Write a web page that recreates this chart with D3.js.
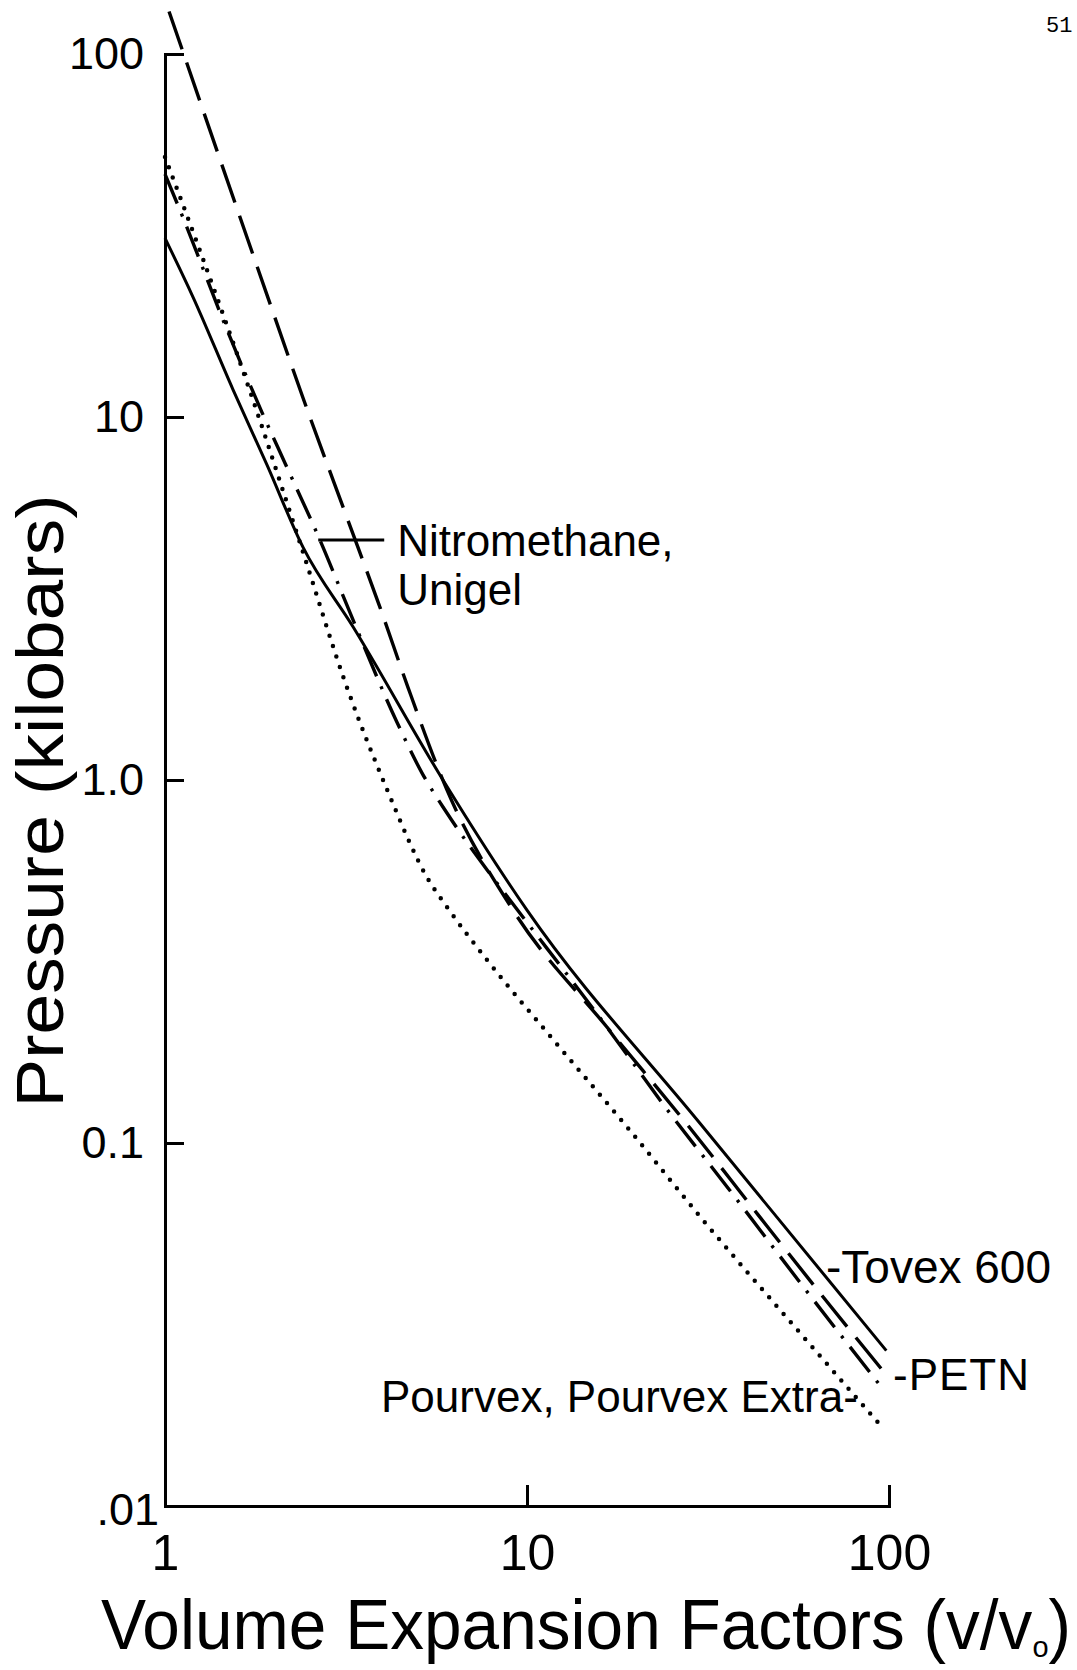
<!DOCTYPE html>
<html>
<head>
<meta charset="utf-8">
<script src="https://cdn.jsdelivr.net/npm/d3@7"></script>
<style>
  html, body { margin: 0; padding: 0; background: #fff; }
  svg { display: block; background: #fff; }
</style>
</head>
<body>
<svg id="chart" width="1077" height="1670"></svg>
<script>
// Axis ticks and their printed labels
const xTicks = [1, 10, 100];
const xTickLabels = ["1", "10", "100"];
const yTicks = [0.01, 0.1, 1, 10, 100];
const yTickLabels = [".01", "0.1", "1.0", "10", "100"];

// Pressure (kilobars) against volume expansion factor v/v0
const tovexV = [1.0, 1.195, 1.541, 1.913, 2.405, 3.31, 5.86, 10.0, 30.0, 98.3];
const tovexP = [31.1, 21.4, 11.9, 7.38, 4.38, 2.64, 1.00, 0.438, 0.1135, 0.0268];

const petnV = [1.026, 1.913, 2.405, 3.20, 3.93, 4.69, 6.01, 9.15, 16.6, 28.2, 43.5, 69.6, 97.5];
const petnP = [131, 21.7, 11.3, 5.20, 2.98, 1.80, 0.939, 0.438, 0.209, 0.110, 0.0634, 0.0351, 0.0232];

const nitroV = [1.0, 1.128, 1.483, 1.853, 2.146, 2.68, 3.24, 4.37, 5.13, 6.01, 7.76, 8.97, 16.6, 24.1, 35.9, 57.5, 96.2];
const nitroP = [46.7, 34.9, 17.4, 10.3, 7.46, 4.58, 2.90, 1.445, 1.045, 0.811, 0.565, 0.467, 0.209, 0.1256, 0.0752, 0.0406, 0.0210];

const pourvexV = [1.0, 1.210, 1.750, 2.36, 3.20, 4.11, 5.29, 6.01, 7.76, 11.95, 18.9, 30.6, 55.0, 95.6];
const pourvexP = [52.0, 31.3, 11.14, 4.50, 1.77, 0.939, 0.540, 0.447, 0.319, 0.190, 0.1107, 0.0614, 0.0311, 0.0165];

const seriesNames = ["Tovex 600", "PETN", "Nitromethane, Unigel", "Pourvex, Pourvex Extra"];

const FONT = "'Liberation Sans', Arial, sans-serif";
const svg = d3.select("#chart");

const x = d3.scaleLog().domain([1, 100]).range([165, 889]);
const y = d3.scaleLog().domain([0.01, 100]).range([1506, 54]);

// y axis: ticks point into the plot, labels to the left
const yAxis = svg.append("g")
  .attr("transform", `translate(${x(1)},0)`)
  .call(d3.axisLeft(y)
    .tickValues(yTicks)
    .tickFormat((d, i) => yTickLabels[i])
    .tickSizeInner(-19)
    .tickSizeOuter(0)
    .tickPadding(21));

// x axis: ticks point up, labels below
const xAxis = svg.append("g")
  .attr("transform", `translate(0,${y(0.01)})`)
  .call(d3.axisBottom(x)
    .tickValues(xTicks)
    .tickFormat((d, i) => xTickLabels[i])
    .tickSizeInner(-21)
    .tickSizeOuter(0)
    .tickPadding(28));

[yAxis, xAxis].forEach(g => {
  g.attr("font-family", FONT);
  g.select(".domain").attr("stroke", "#000").attr("stroke-width", 3).attr("stroke-linecap", "square");
  g.selectAll(".tick line").attr("stroke", "#000").attr("stroke-width", 3);
  g.selectAll(".tick text").attr("fill", "#000");
});
yAxis.attr("font-size", 45);
xAxis.attr("font-size", 50);
// ".01" sits right against the corner of the frame
yAxis.selectAll(".tick text").filter(d => d === 0.01).attr("x", -6).attr("dy", "0.4em");
// the "1" on the x axis is not drawn on top of the y tick
xAxis.selectAll(".tick line").filter(d => d === 1).remove();

// curves
const line = d3.line()
  .x(d => x(d[0]))
  .y(d => y(d[1]))
  .curve(d3.curveMonotoneX);

const series = [
  { name: seriesNames[0], v: tovexV, p: tovexP, dash: null, width: 3, cap: "butt" },
  { name: seriesNames[1], v: petnV, p: petnP, dash: "40,14", width: 3.4, cap: "butt" },
  { name: seriesNames[2], v: nitroV, p: nitroP, dash: "32,11,3,11", width: 3.4, cap: "butt" },
  { name: seriesNames[3], v: pourvexV, p: pourvexP, dash: "0,11", width: 4.5, cap: "round" }
];

svg.append("g").selectAll("path")
  .data(series)
  .join("path")
  .attr("d", s => line(s.v.map((v, i) => [v, s.p[i]])))
  .attr("fill", "none")
  .attr("stroke", "#000")
  .attr("stroke-width", s => s.width)
  .attr("stroke-linecap", s => s.cap)
  .attr("stroke-dasharray", s => s.dash);

// leader for the nitromethane / unigel curve
const leadX = x(2.65), leadY = y(4.58);
svg.append("line")
  .attr("x1", leadX).attr("y1", leadY)
  .attr("x2", leadX + 66).attr("y2", leadY)
  .attr("stroke", "#000").attr("stroke-width", 3);

const label = (txt, px, py, size) => svg.append("text")
  .attr("x", px).attr("y", py)
  .attr("font-family", FONT)
  .attr("font-size", size)
  .attr("fill", "#000")
  .text(txt);

label("Nitromethane,", leadX + 79, leadY + 16, 44);
label("Unigel", leadX + 79, leadY + 65, 44);
label("-Tovex 600", 826, 1283, 46);
label("-PETN", 893, 1390, 44).attr("letter-spacing", 1);
label("Pourvex, Pourvex Extra-", 381, 1412, 44);

// axis titles
svg.append("text")
  .attr("transform", "translate(63,801) rotate(-90)")
  .attr("text-anchor", "middle")
  .attr("font-family", FONT)
  .attr("font-size", 66)
  .attr("textLength", 613)
  .attr("lengthAdjust", "spacingAndGlyphs")
  .attr("fill", "#000")
  .text("Pressure (kilobars)");

const xt = svg.append("text")
  .attr("x", 101).attr("y", 1649)
  .attr("font-family", FONT)
  .attr("font-size", 70)
  .attr("fill", "#000");
xt.append("tspan").text("Volume Expansion Factors (v/v");
xt.append("tspan").attr("font-size", 30).attr("dy", 8).text("o");
xt.append("tspan").attr("dy", -8).text(")");
xt.attr("textLength", 970).attr("lengthAdjust", "spacingAndGlyphs");

// page number
svg.append("text")
  .attr("x", 1046).attr("y", 32)
  .attr("font-family", "'Liberation Mono', 'DejaVu Sans Mono', monospace")
  .attr("font-size", 22)
  .attr("fill", "#000")
  .text("51");
</script>
</body>
</html>
